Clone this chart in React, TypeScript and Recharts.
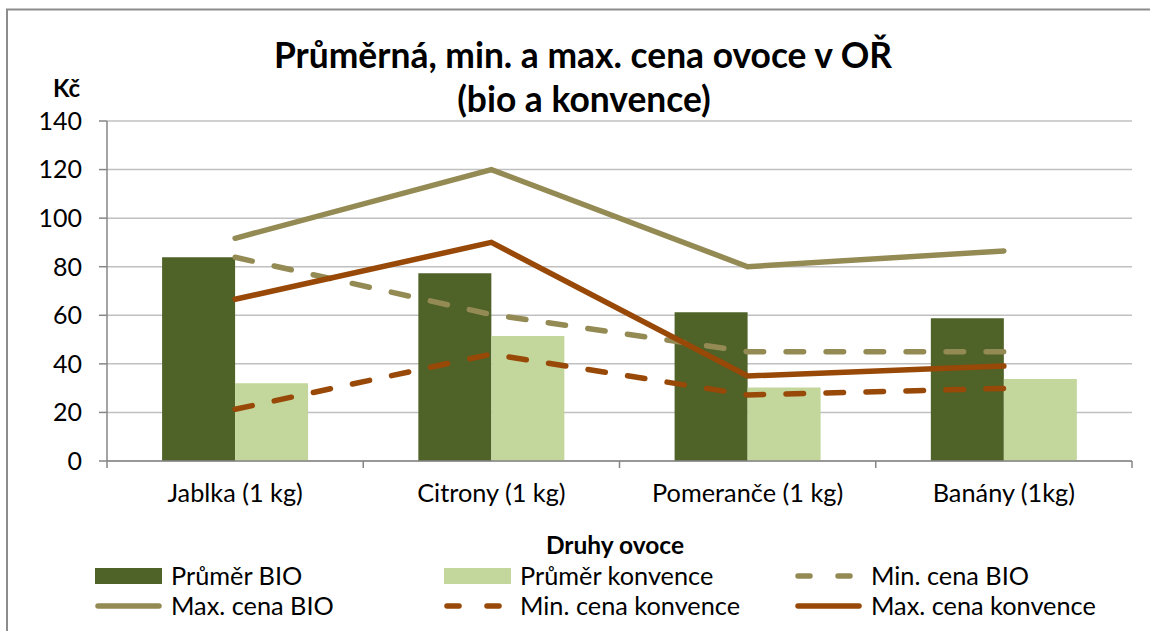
import React from 'react';
import { ComposedChart, Bar, Line, XAxis, YAxis, CartesianGrid, Customized } from 'recharts';

const categories = ['Jablka (1 kg)', 'Citrony (1 kg)', 'Pomeranče (1 kg)', 'Banány (1kg)'];
const prumerBio = [83.9, 77.3, 61.2, 58.8];
const prumerKonvence = [32, 51.5, 30.3, 33.8];
const minCenaBio = [83.9, 60.3, 45, 45];
const maxCenaBio = [91.7, 120, 80, 86.5];
const minCenaKonvence = [21.3, 44, 27.2, 29.9];
const maxCenaKonvence = [66.6, 90, 35, 39.1];
const yTicks = [0, 20, 40, 60, 80, 100, 120, 140];

const titleLines = ['Průměrná, min. a max. cena ovoce v OŘ', '(bio a konvence)'];
const yUnit = 'Kč';
const xTitle = 'Druhy ovoce';

const data = categories.map((c, i) => ({
  name: c,
  prumerBio: prumerBio[i],
  prumerKonvence: prumerKonvence[i],
  minCenaBio: minCenaBio[i],
  maxCenaBio: maxCenaBio[i],
  minCenaKonvence: minCenaKonvence[i],
  maxCenaKonvence: maxCenaKonvence[i],
}));

const W = 1150;
const H = 631;
const M = { top: 121, right: 18, bottom: 130, left: 0 };
const Y_W = 107;
const X_H = 40;
const FONT = 'Lato, Carlito, Calibri, sans-serif';

const C_DARK = '#4F6228';
const C_LIGHT = '#C3D69B';
const C_BIO = '#948A54';
const C_KONV = '#984807';
const DASH = '17.5 22.5';
const LW = 5.5;

const legendItems = [
  { label: 'Průměr BIO', type: 'rect', color: C_DARK },
  { label: 'Průměr konvence', type: 'rect', color: C_LIGHT },
  { label: 'Min. cena BIO', type: 'dash', color: C_BIO },
  { label: 'Max. cena BIO', type: 'line', color: C_BIO },
  { label: 'Min. cena konvence', type: 'dash', color: C_KONV },
  { label: 'Max. cena konvence', type: 'line', color: C_KONV },
];

const plotW = W - Y_W - M.right - M.left;
const halfBand = plotW / categories.length / 2;

const XTick = (props: any) => {
  const { x, y, payload, index } = props;
  const axisY = y;
  return (
    <g>
      <line x1={x - halfBand} x2={x - halfBand} y1={axisY} y2={axisY + 7} stroke="#868686" strokeWidth={1.5} />
      {index === categories.length - 1 && (
        <line x1={x + halfBand} x2={x + halfBand} y1={axisY} y2={axisY + 7} stroke="#868686" strokeWidth={1.5} />
      )}
      <text x={x} y={axisY + 41} textAnchor="middle" fontSize={25.3} fontFamily={FONT} fill="#000">
        {payload.value}
      </text>
    </g>
  );
};

const Decor = () => {
  const colX = [95, 444, 795];
  const rowY = [576, 606];
  return (
    <g fontFamily={FONT}>
      <text x={583} y={68} textAnchor="middle" fontSize={35.4} fontWeight={700} fill="#000">{titleLines[0]}</text>
      <text x={584} y={112} textAnchor="middle" fontSize={35.4} fontWeight={700} fill="#000">{titleLines[1]}</text>
      <text x={53} y={97} fontSize={24} fontWeight={700} fill="#000">{yUnit}</text>
      <text x={615} y={554} textAnchor="middle" fontSize={24.5} fontWeight={700} fill="#000">{xTitle}</text>
      {legendItems.map((it, i) => {
        const cx = colX[i % 3];
        const cy = rowY[Math.floor(i / 3)];
        let icon;
        if (it.type === 'rect') {
          icon = <rect x={cx} y={cy - 8} width={67} height={16} fill={it.color} />;
        } else if (it.type === 'dash') {
          icon = <line x1={cx + 3} x2={cx + 64} y1={cy} y2={cy} stroke={it.color} strokeWidth={LW} strokeLinecap="round" strokeDasharray="12 28" />;
        } else {
          icon = <line x1={cx + 3} x2={cx + 64} y1={cy} y2={cy} stroke={it.color} strokeWidth={LW} strokeLinecap="round" />;
        }
        return (
          <g key={it.label}>
            {icon}
            <text x={cx + 76} y={cy + 9} fontSize={25.3} fill="#000">{it.label}</text>
          </g>
        );
      })}
      <path d={`M7 ${H} L7 9.5 L${W} 9.5`} fill="none" stroke="#8c8c8c" strokeWidth={2} />
    </g>
  );
};

export default function App() {
  return (
    <div style={{ position: 'absolute', left: 0, top: 0, width: W, height: H, background: '#fff' }}>
      <ComposedChart width={W} height={H} data={data} margin={M} barCategoryGap="21.5%" barGap={0}>
        <CartesianGrid vertical={false} stroke="#c0c0c0" strokeWidth={1.5} />
        <XAxis
          dataKey="name"
          height={X_H}
          axisLine={{ stroke: '#868686', strokeWidth: 1.5 }}
          tickLine={false}
          tickSize={0}
          tickMargin={0}
          tick={<XTick />}
          interval={0}
        />
        <YAxis
          width={Y_W}
          domain={[0, 140]}
          ticks={yTicks}
          interval={0}
          axisLine={{ stroke: '#868686', strokeWidth: 1.5 }}
          tickLine={{ stroke: '#868686', strokeWidth: 1.5 }}
          tickSize={8}
          tickMargin={17}
          tick={{ fontSize: 25, fontFamily: FONT, fill: '#000' }}
        />
        <Bar dataKey="prumerBio" fill={C_DARK} isAnimationActive={false} />
        <Bar dataKey="prumerKonvence" fill={C_LIGHT} isAnimationActive={false} />
        <Line dataKey="minCenaBio" stroke={C_BIO} strokeWidth={LW} strokeDasharray={DASH} strokeLinecap="round" dot={false} activeDot={false} isAnimationActive={false} />
        <Line dataKey="maxCenaBio" stroke={C_BIO} strokeWidth={LW} strokeLinecap="round" dot={false} activeDot={false} isAnimationActive={false} />
        <Line dataKey="minCenaKonvence" stroke={C_KONV} strokeWidth={LW} strokeDasharray={DASH} strokeLinecap="round" dot={false} activeDot={false} isAnimationActive={false} />
        <Line dataKey="maxCenaKonvence" stroke={C_KONV} strokeWidth={LW} strokeLinecap="round" dot={false} activeDot={false} isAnimationActive={false} />
        <Customized component={Decor} />
      </ComposedChart>
    </div>
  );
}
